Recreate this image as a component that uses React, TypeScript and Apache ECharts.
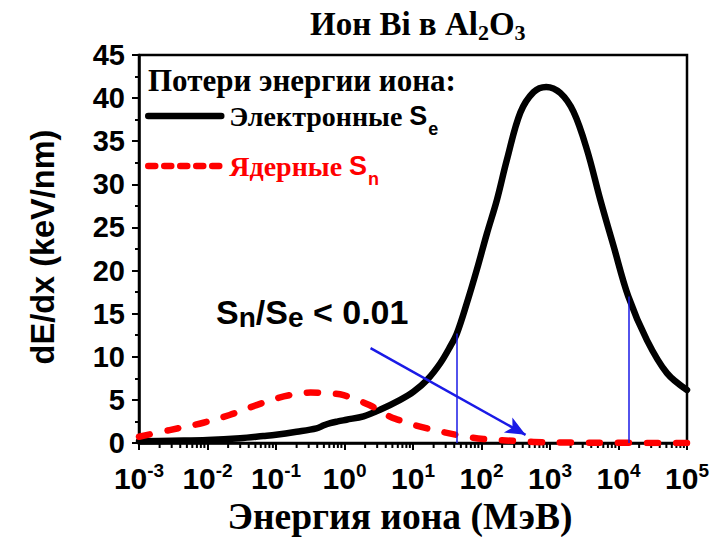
import React, { useEffect, useRef } from "react";
import * as echarts from "echarts";

// Electronic stopping power Se (keV/nm) versus ion energy (MeV)
const seEnergy = [
  0.001, 0.003, 0.01, 0.03, 0.065, 0.1, 0.2, 0.39, 0.5, 0.62, 0.8, 1.07, 1.9,
  3.3, 6.5, 10.2, 16, 25, 35, 43.7, 61, 85.5, 120, 168, 234, 368, 575, 880,
  1410, 2210, 3470, 5430, 8500, 13900, 26100, 51000, 100000,
];
const seValue = [
  0.2, 0.27, 0.35, 0.55, 0.8, 0.95, 1.3, 1.7, 2.05, 2.3, 2.5, 2.7, 3.1, 3.85,
  5.0, 5.95, 7.3, 9.25, 11.2, 12.7, 16.2, 20.1, 24.3, 28.2, 32.8, 38.3, 40.7,
  41.3, 40.6, 38.4, 34.0, 28.2, 22.8, 17.0, 11.9, 8.1, 6.15,
];

// Nuclear stopping power Sn (keV/nm) versus ion energy (MeV)
const snEnergy = [
  0.001, 0.0028, 0.0087, 0.021, 0.052, 0.13, 0.32, 0.62, 0.97, 2.3, 4.6, 5.8,
  12.7, 44, 107, 300, 575, 2000, 10000, 100000,
];
const snValue = [
  0.73, 1.5, 2.35, 3.25, 4.4, 5.4, 5.85, 5.75, 5.55, 4.4, 3.05, 2.75, 1.9,
  0.93, 0.46, 0.25, 0.12, 0.06, 0.02, 0.005,
];

// Bounds of the Sn/Se < 0.01 region, drawn up to the Se curve
const thresholdEnergy = [43.7, 13900];
const thresholdSe = [12.7, 17.0];

// Pointer from the annotation towards the region
const arrowStart = [2.4, 11.0];
const arrowEnd = [440, 0.95];

// Axis ranges
const energyMin = 0.001;
const energyMax = 100000;
const yMin = 0;
const yMax = 45;
const yStep = 5;

const SERIF = '"Liberation Serif", "Times New Roman", serif';
const SANS = '"Liberation Sans", Arial, sans-serif';
const BLUE = "#1a1ae6";
const RED = "#ff0000";

const SE_NAME = "Электронные Se";
const SN_NAME = "Ядерные Sn";

export default function App() {
  const ref = useRef<HTMLDivElement>(null);

  useEffect(() => {
    if (!ref.current) return;
    const chart = echarts.init(ref.current, null, { renderer: "svg" });

    // minor tick positions (2..9 within each decade) of the log energy axis
    const minorTicks: number[][] = [];
    const lo = Math.round(Math.log10(energyMin));
    const hi = Math.round(Math.log10(energyMax));
    for (let e = lo; e < hi; e++) {
      for (let m = 2; m <= 9; m++) minorTicks.push([m * Math.pow(10, e), 0]);
    }

    const axisLineStyle = { color: "#000", width: 2.5 };
    const legendSub = (color: string) => ({
      fontFamily: SANS,
      fontWeight: "bold",
      fontSize: 18,
      color,
      lineHeight: 1,
      verticalAlign: "top",
      padding: [19, 0, 0, 1],
    });

    chart.setOption({
      animation: false,
      backgroundColor: "#ffffff",
      title: {
        text: "{t|Ион Bi в Al}{s|2}{t|O}{s|3}",
        left: 310,
        top: 5,
        padding: 0,
        textStyle: {
          rich: {
            t: { fontFamily: SERIF, fontWeight: "bold", fontSize: 33, color: "#000", lineHeight: 38 },
            s: { fontFamily: SERIF, fontWeight: "bold", fontSize: 22, color: "#000", lineHeight: 16, verticalAlign: "bottom" },
          },
        },
      },
      grid: {
        left: 139,
        right: 23,
        top: 55,
        bottom: 94,
        outerBoundsMode: "none",
        show: true,
        borderColor: "#000",
        borderWidth: 2.5,
        backgroundColor: "transparent",
      },
      legend: {
        left: 145,
        top: 101,
        padding: 0,
        orient: "vertical",
        itemWidth: 73,
        itemHeight: 14,
        itemGap: 13,
        selectedMode: false,
        data: [
          { name: SE_NAME, itemStyle: { opacity: 0 }, lineStyle: { width: 6.5, cap: "round" } },
          { name: SN_NAME, itemStyle: { opacity: 0 }, lineStyle: { width: 6.5, type: [7, 9], cap: "round" } },
        ],
        formatter: (name: string) =>
          name === SE_NAME
            ? "{eb|Электронные }{es|S}{ei|e}"
            : "{rb|Ядерные }{rs|S}{ri|n}",
        textStyle: {
          rich: {
            eb: { fontFamily: SERIF, fontWeight: "bold", fontSize: 28, color: "#000", lineHeight: 30, padding: [0, 0, 0, 3] },
            es: { fontFamily: SANS, fontWeight: "bold", fontSize: 27, color: "#000", lineHeight: 30 },
            ei: legendSub("#000"),
            rb: { fontFamily: SERIF, fontWeight: "bold", fontSize: 28, color: RED, lineHeight: 30, padding: [0, 0, 0, 3] },
            rs: { fontFamily: SANS, fontWeight: "bold", fontSize: 27, color: RED, lineHeight: 30 },
            ri: legendSub(RED),
          },
        },
      },
      graphic: [
        {
          type: "text",
          left: 148,
          top: 65,
          style: {
            text: "Потери энергии иона:",
            fontFamily: SERIF,
            fontWeight: "bold",
            fontSize: 31,
            fill: "#000",
          },
        },
        {
          type: "text",
          left: 216,
          top: 295,
          style: {
            text: "{a|S}{b|n}{a|/S}{b|e}{a| < 0.01}",
            rich: {
              a: { fontFamily: SANS, fontWeight: "bold", fontSize: 34, fill: "#000", lineHeight: 38 },
              b: { fontFamily: SANS, fontWeight: "bold", fontSize: 28, fill: "#000", lineHeight: 20, verticalAlign: "bottom" },
            },
          },
        },
        {
          // vertical axis title
          type: "text",
          x: 43,
          y: 247,
          rotation: Math.PI / 2,
          style: {
            text: "dE/dx (keV/nm)",
            fontFamily: SANS,
            fontWeight: "bold",
            fontSize: 32.5,
            fill: "#000",
            align: "center",
            verticalAlign: "middle",
          },
        },
      ],
      xAxis: {
        type: "log",
        logBase: 10,
        min: energyMin,
        max: energyMax,
        splitNumber: 8,
        name: "Энергия иона (МэВ)",
        nameLocation: "middle",
        nameGap: 54,
        nameTextStyle: {
          fontFamily: SERIF,
          fontWeight: "bold",
          fontSize: 37.5,
          color: "#000",
          padding: [0, 26, 0, 0],
        },
        axisLine: { lineStyle: axisLineStyle },
        axisTick: { length: 7, lineStyle: { color: "#000", width: 2 } },
        splitLine: { show: false },
        axisLabel: {
          margin: 18,
          formatter: (v: number) => `{b|10}{p|${Math.round(Math.log10(v))}}`,
          rich: {
            b: { fontFamily: SANS, fontWeight: "bold", fontSize: 30, color: "#000", lineHeight: 34 },
            p: { fontFamily: SANS, fontWeight: "bold", fontSize: 19, color: "#000", lineHeight: 16, verticalAlign: "top" },
          },
        },
      },
      yAxis: {
        type: "value",
        min: yMin,
        max: yMax,
        interval: yStep,
        axisLine: { show: true, lineStyle: axisLineStyle },
        axisTick: { show: true, length: 7, lineStyle: { color: "#000", width: 2 } },
        minorTick: { show: true, splitNumber: 2, length: 4, lineStyle: { color: "#000", width: 2 } },
        splitLine: { show: false },
        axisLabel: { fontFamily: SANS, fontWeight: "bold", fontSize: 29, color: "#000", margin: 14 },
      },
      series: [
        {
          name: SE_NAME,
          type: "line",
          data: seEnergy.map((e, i) => [e, seValue[i]]),
          showSymbol: false,
          symbol: "none",
          smooth: 0.35,
          lineStyle: { color: "#000", width: 6.5, cap: "round", join: "round" },
          itemStyle: { color: "#000" },
          z: 3,
          markLine: {
            silent: true,
            symbol: ["none", "none"],
            label: { show: false },
            emphasis: { disabled: true },
            lineStyle: { color: BLUE, width: 1.5, type: "solid" },
            data: [
              ...thresholdEnergy.map((e, i) => [
                { coord: [e, 0] },
                { coord: [e, thresholdSe[i]] },
              ]),
              [
                { coord: arrowStart, symbol: "none", lineStyle: { color: BLUE, width: 2.5, type: "solid" } },
                { coord: arrowEnd, symbol: "arrow", symbolSize: [13, 20] },
              ],
            ],
          },
        },
        {
          name: SN_NAME,
          type: "line",
          data: snEnergy.map((e, i) => [e, snValue[i]]),
          showSymbol: false,
          symbol: "none",
          smooth: 0.35,
          lineStyle: { color: RED, width: 6.5, type: [11, 18], cap: "round", join: "round" },
          itemStyle: { color: RED },
          z: 4,
        },
        {
          name: "minorTicks",
          type: "custom",
          silent: true,
          clip: false,
          z: 1,
          data: minorTicks,
          encode: { x: 0, y: 1 },
          renderItem: (_params: any, api: any) => {
            const p = api.coord([api.value(0), 0]);
            return {
              type: "line",
              shape: { x1: p[0], y1: p[1], x2: p[0], y2: p[1] + 5 },
              style: { stroke: "#000", lineWidth: 2 },
            };
          },
        },
      ],
    });

    return () => chart.dispose();
  }, []);

  return (
    <div
      ref={ref}
      style={{ position: "fixed", left: 0, top: 0, width: 710, height: 537, background: "#fff" }}
    />
  );
}
